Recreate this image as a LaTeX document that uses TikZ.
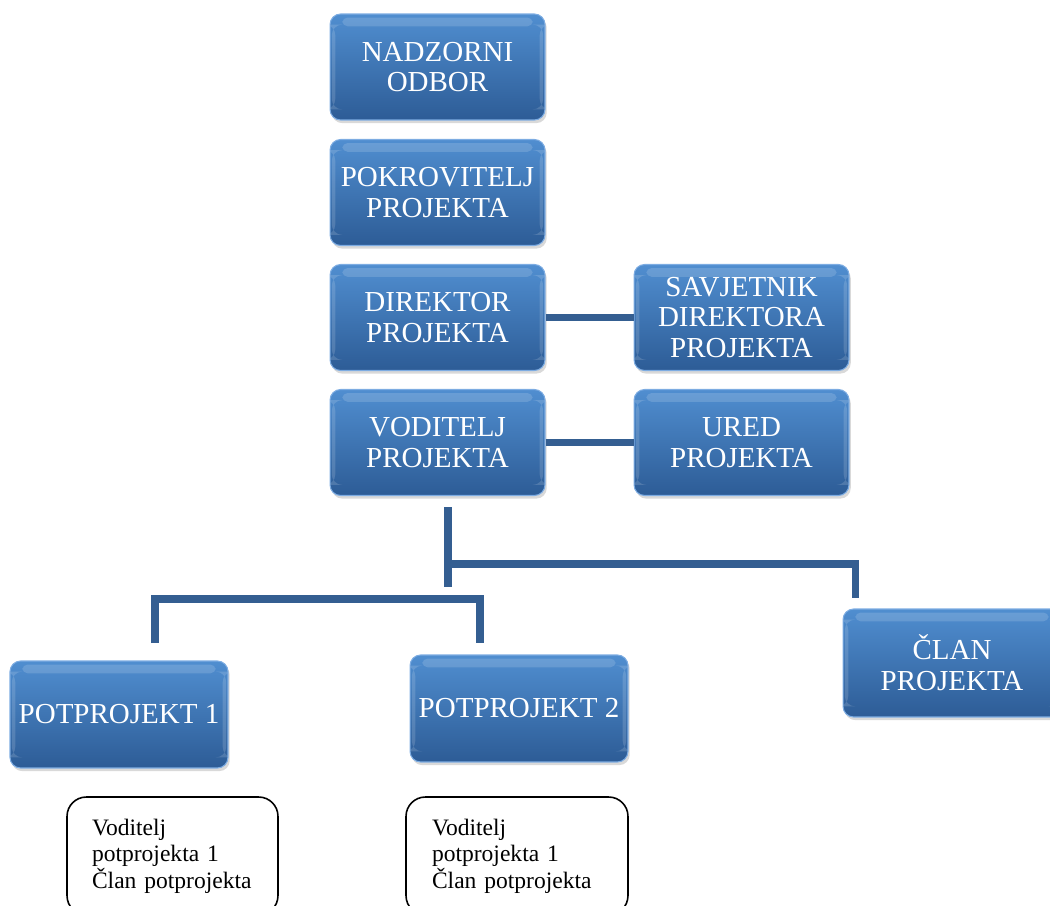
\documentclass[tikz,border=0pt]{standalone}
\usepackage{fontspec}
\setmainfont{Liberation Serif}
\usetikzlibrary{shadows}
\definecolor{boxtop}{RGB}{80,142,208}
\definecolor{boxbot}{RGB}{45,92,150}
\definecolor{boxedge}{RGB}{125,172,226}
\definecolor{linecol}{RGB}{52,94,145}
\newcommand{\bluefont}{\fontsize{16.5}{17.5}\selectfont}
\newcommand{\notefont}{\fontsize{13.4}{15}\selectfont}
\tikzset{
  bluebox/.style={rounded corners=6pt, minimum width=4.3cm, minimum height=2.12cm,
    inner sep=1pt, text=white, align=center, font=\bluefont,
    top color=boxtop, bottom color=boxbot, draw=boxedge, line width=0.6pt,
    drop shadow={opacity=0.3, shadow xshift=1pt, shadow yshift=-1.8pt},
    path picture={
      \fill[white, opacity=0.15, rounded corners=3pt]
        ([xshift=7pt,yshift=-2pt]path picture bounding box.north west) rectangle
        ([xshift=-7pt,yshift=-7pt]path picture bounding box.north east);
      \fill[white, opacity=0.15]
        ([xshift=1pt,yshift=-6pt]path picture bounding box.north west) rectangle
        ([xshift=3pt,yshift=6pt]path picture bounding box.south west);
      \fill[white, opacity=0.15]
        ([xshift=-3pt,yshift=-6pt]path picture bounding box.north east) rectangle
        ([xshift=-1pt,yshift=6pt]path picture bounding box.south east);
    }},
  notebox/.style={draw=black, line width=0.9pt, rounded corners=11pt,
    minimum height=2.36cm, align=left, font=\notefont, inner ysep=2pt},
  conn/.style={draw=linecol, line width=4pt, line cap=butt, line join=miter}
}
\begin{document}
\begin{tikzpicture}[x=0.02cm, y=-0.02cm]
\useasboundingbox (0,0) rectangle (1050,905);
\clip (0,0) rectangle (1050,905);

\node[bluebox] (nad) at (437.5,67) {NADZORNI\\ODBOR};
\node[bluebox] (pok) at (437.5,192.5) {POKROVITELJ\\PROJEKTA};
\node[bluebox] (dir) at (437.5,317.5) {DIREKTOR\\PROJEKTA};
\node[bluebox] (sav) at (741.5,317.5) {SAVJETNIK\\DIREKTORA\\PROJEKTA};
\node[bluebox] (vod) at (437.5,442.5) {VODITELJ\\PROJEKTA};
\node[bluebox] (ured) at (741.5,442.5) {URED\\PROJEKTA};
\node[bluebox, minimum width=4.36cm, minimum height=2.14cm] (p1) at (119,714.5) {POTPROJEKT 1};
\node[bluebox, minimum width=4.36cm, minimum height=2.14cm] (p2) at (519,708.5) {POTPROJEKT 2};
\node[bluebox, minimum width=4.36cm, minimum height=2.16cm] (clan) at (952,663) {ČLAN\\PROJEKTA};

\node[notebox, text width=3.22cm, inner xsep=0.5cm] (n1) at (172.5,856)
  {Voditelj\\potprojekta 1\\Član potprojekta};
\node[notebox, text width=3.40cm, inner xsep=0.52cm] (n2) at (517,856)
  {Voditelj\\potprojekta 1\\Član potprojekta};

\draw[conn] (dir.east) -- (sav.west);
\draw[conn] (vod.east) -- (ured.west);

\coordinate (trunkTop) at (448,507);
\coordinate (trunkBot) at (448,587);
\coordinate (clanTurn) at (855,564);
\coordinate (clanEnd) at (855,598);
\coordinate (brLend) at (155,643);
\coordinate (brLtop) at (155,599);
\coordinate (brRtop) at (480,599);
\coordinate (brRend) at (480,643);

\draw[conn] (trunkTop) -- (trunkBot);
\draw[conn] (trunkTop |- clanTurn) -- (clanTurn) -- (clanEnd);
\draw[conn] (brLend) -- (brLtop) -- (brRtop) -- (brRend);
\end{tikzpicture}
\end{document}
